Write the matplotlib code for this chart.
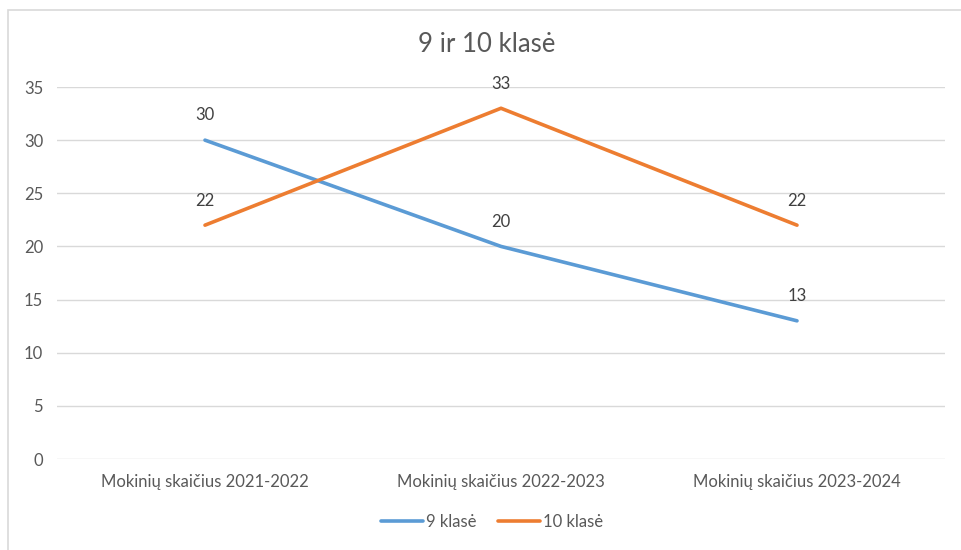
import matplotlib.pyplot as plt
from matplotlib.patches import Rectangle

# data
kategorijos = ["Mokinių skaičius 2021-2022", "Mokinių skaičius 2022-2023", "Mokinių skaičius 2023-2024"]
klase_9 = [30, 20, 13]
klase_10 = [22, 33, 22]
y_ticks = [0, 5, 10, 15, 20, 25, 30, 35]

plt.rcParams['font.family'] = ['Lato', 'DejaVu Sans']
tekstas = '#595959'

fig = plt.figure(figsize=(9.61, 5.5), dpi=100)
ax = fig.add_axes([57/961, 1 - 459/550, 888/961, 372/550])

x = list(range(len(kategorijos)))
ax.plot(x, klase_9, color='#5B9BD5', lw=2.6, label='9 klasė', solid_capstyle='round')
ax.plot(x, klase_10, color='#ED7D31', lw=2.6, label='10 klasė', solid_capstyle='round')

for xi, v in zip(x, klase_9):
    ax.annotate(str(v), (xi, v), xytext=(0, 12), textcoords='offset points',
                ha='center', va='bottom', fontsize=12, color='#404040')
for xi, v in zip(x, klase_10):
    ax.annotate(str(v), (xi, v), xytext=(0, 12), textcoords='offset points',
                ha='center', va='bottom', fontsize=12, color='#404040')

ax.set_xlim(-0.5, 2.5)
ax.set_ylim(0, 35)
ax.set_yticks(y_ticks)
ax.set_xticks(x)
ax.set_xticklabels(kategorijos)
ax.tick_params(axis='both', length=0, labelsize=12, labelcolor=tekstas)
ax.tick_params(axis='y', pad=10)
ax.tick_params(axis='x', pad=11)
ax.grid(axis='y', color='#D9D9D9', lw=1)
ax.set_axisbelow(True)
for s in ax.spines.values():
    s.set_visible(False)

fig.text(487/961, 1 - 45/550, '9 ir 10 klasė', ha='center', va='center',
         fontsize=18.5, color=tekstas)

ax.legend(loc='center', bbox_to_anchor=(492/961, 1 - 522/550),
          bbox_transform=fig.transFigure, ncol=2, frameon=False,
          fontsize=12, labelcolor=tekstas, handlelength=2.5,
          handletextpad=0.2, columnspacing=1.3)

# rėmelis
fig.patches.append(Rectangle((8/961, -0.1), 1.1, 1 - 10/550 + 0.1,
                             transform=fig.transFigure, fill=False,
                             edgecolor='#D9D9D9', lw=1.2))

fig.savefig('out.png', dpi=100)
